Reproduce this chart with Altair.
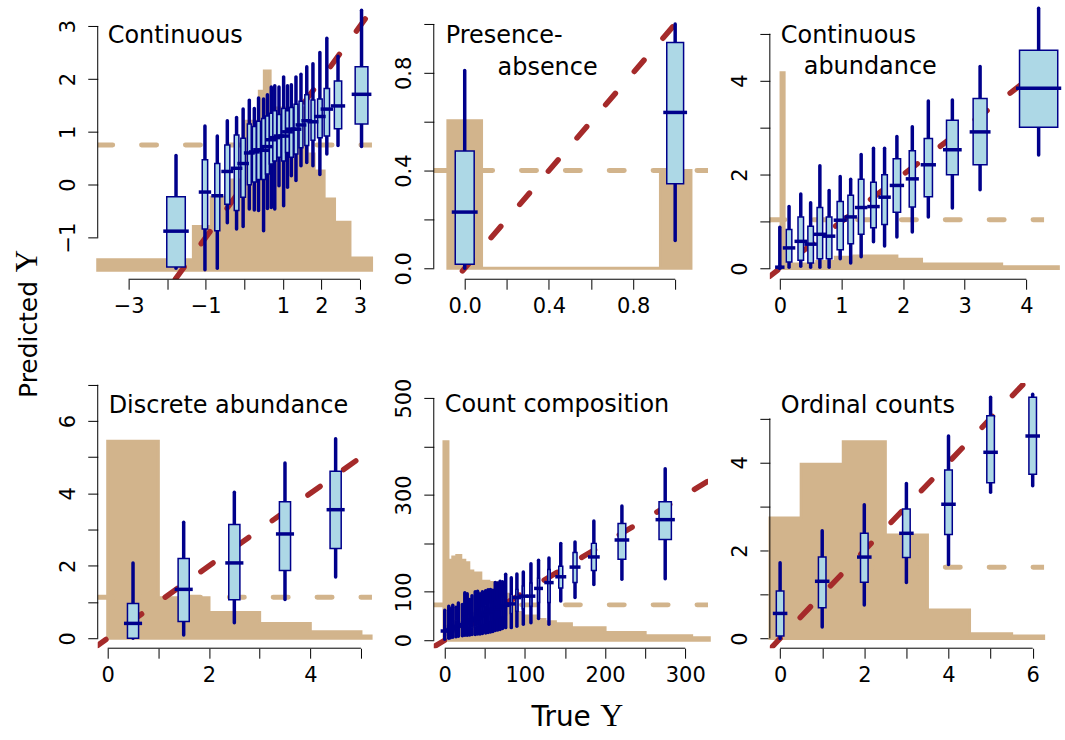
import altair as alt
import pandas as pd

# ---------------------------------------------------------------- data
TITLES = [["Continuous"], ["Presence-", "absence"], ["Continuous", "abundance"],
          ["Discrete abundance"], ["Count composition"], ["Ordinal counts"]]
AXIS_TITLE_Y = ["Predicted", "Y"]
AXIS_TITLE_X = ["True", "Y"]

# Panel 1: Continuous
P1_CENTER = [-1.77, -1.02, -0.70, -0.44, -0.20, -0.03, 0.13, 0.26, 0.37, 0.50, 0.60, 0.70, 0.79,
             0.90, 1.02, 1.12, 1.22, 1.34, 1.47, 1.62, 1.78, 1.96, 2.14, 2.43, 3.04]
P1_LO = [-1.58, -1.61, -1.58, -0.72, -0.84, -0.79, -0.46, -0.48, -0.49, -0.87, -0.45, -0.43, -0.46,
         -0.02, -0.40, -0.05, 0.17, 0.08, 0.36, 0.42, 0.36, 0.19, 0.58, 0.74, 0.72]
P1_Q1 = [-1.56, -0.84, -0.87, -0.37, -0.49, -0.24, 0.00, 0.05, 0.10, 0.10, 0.20, 0.39, 0.45,
         0.52, 0.45, 0.61, 0.52, 0.58, 0.70, 0.74, 0.84, 0.89, 0.92, 1.06, 1.15]
P1_MED = [-0.88, -0.14, -0.21, 0.25, 0.31, 0.40, 0.60, 0.62, 0.66, 0.65, 0.72, 0.85, 0.89,
          0.92, 0.92, 1.00, 1.05, 1.05, 1.13, 1.21, 1.19, 1.29, 1.43, 1.49, 1.71]
P1_Q3 = [-0.23, 0.47, 0.40, 0.75, 0.94, 0.88, 1.15, 1.10, 1.20, 1.25, 1.30, 1.35, 1.40,
         1.33, 1.44, 1.40, 1.46, 1.52, 1.58, 1.70, 1.60, 1.62, 1.82, 1.96, 2.23]
P1_HI = [0.55, 1.11, 0.92, 1.21, 1.27, 1.43, 1.60, 1.44, 1.64, 1.62, 1.70, 1.85, 1.87,
         1.85, 2.04, 1.87, 1.89, 2.04, 2.09, 2.23, 2.29, 2.50, 2.77, 2.43, 3.30]
P1_HALF = [0.24, 0.07, 0.065, 0.065, 0.06, 0.06, 0.05, 0.05, 0.05, 0.05, 0.05, 0.05, 0.05,
           0.05, 0.05, 0.05, 0.05, 0.05, 0.05, 0.05, 0.05, 0.06, 0.07, 0.095, 0.165]
P1_HIST_EDGES = [-3.80, -1.32, -0.86, -0.39, 0.04, 0.39, 0.52, 0.67, 1.63, 1.81, 2.07, 2.34, 2.74, 3.30]
P1_HIST_HEIGHT = [-1.42, -0.79, -0.24, 0.09, 1.20, 1.77, 2.15, 1.45, 0.58, 0.26, -0.27, -0.71, -1.39]
P1_HIST_BASE = -1.62
P1_HLINE = 0.75

# Panel 2: Presence-absence
P2_CENTER = [0.0, 1.0]
P2_LO = [0.0, 0.114]
P2_Q1 = [0.016, 0.346]
P2_MED = [0.23, 0.638]
P2_Q3 = [0.48, 0.924]
P2_HI = [0.81, 1.0]
P2_HALF = [0.045, 0.04]
P2_HIST_EDGES = [-0.08, 0.08, 0.93, 1.075]
P2_HIST_HEIGHT = [0.604, 0.0, 0.40]
P2_HIST_BASE = 0.0
P2_HLINE = 0.40

# Panel 3: Continuous abundance
P3_CENTER = [0.0, 0.15, 0.34, 0.50, 0.65, 0.80, 0.98, 1.15, 1.32, 1.52, 1.70, 1.90, 2.15, 2.41, 2.80, 3.25, 4.20]
P3_LO = [0.0, 0.03, 0.05, 0.03, 0.03, 0.03, 0.21, 0.12, 0.25, 0.57, 0.48, 0.67, 0.78, 1.10, 1.29, 1.68, 2.42]
P3_Q1 = [0.0, 0.14, 0.18, 0.12, 0.21, 0.21, 0.40, 0.53, 0.73, 0.87, 0.94, 1.20, 1.31, 1.53, 2.00, 2.21, 3.01]
P3_MED = [0.03, 0.44, 0.58, 0.52, 0.73, 0.69, 1.03, 1.10, 1.30, 1.32, 1.52, 1.77, 1.91, 2.21, 2.53, 2.91, 3.84]
P3_Q3 = [0.05, 0.83, 1.10, 0.90, 1.30, 1.10, 1.43, 1.56, 1.90, 1.84, 2.00, 2.34, 2.51, 2.77, 3.16, 3.62, 4.65]
P3_HI = [0.88, 1.32, 1.59, 1.40, 2.19, 1.66, 1.96, 1.90, 2.43, 2.56, 2.56, 2.81, 3.02, 3.57, 3.59, 4.30, 5.54]
P3_HALF = [0.02, 0.045, 0.045, 0.045, 0.045, 0.045, 0.05, 0.045, 0.045, 0.045, 0.045, 0.06, 0.05,
           0.067, 0.095, 0.113, 0.31]
P3_HIST_EDGES = [0.02, 0.07, 0.6, 0.9, 1.2, 1.9, 2.3, 3.6, 4.52]
P3_HIST_HEIGHT = [4.17, 0.10, 0.15, 0.24, 0.27, 0.20, 0.10, 0.04]
P3_HIST_BASE = 0.0
P3_HLINE = 1.04

# Panel 4: Discrete abundance
P4_CENTER = [0.5, 1.5, 2.5, 3.5, 4.5]
P4_LO = [0.0, 0.09, 0.43, 1.07, 1.69]
P4_Q1 = [0.0, 0.46, 1.06, 1.87, 2.48]
P4_MED = [0.41, 1.35, 2.08, 2.88, 3.55]
P4_Q3 = [0.96, 2.20, 3.14, 3.77, 4.61]
P4_HI = [2.08, 3.20, 4.03, 4.84, 5.51]
P4_HALF = [0.11, 0.11, 0.11, 0.11, 0.11]
P4_HIST_EDGES = [0.0, 1.0, 2.0, 3.0, 4.0, 5.0, 5.2]
P4_HIST_HEIGHT = [5.44, 1.12, 0.71, 0.41, 0.18, 0.06]
P4_HIST_BASE = 0.0
P4_HLINE = 1.13

# Panel 5: Count composition
P5_CENTER = [0, 5, 7, 10, 14, 17, 22, 25, 28, 31, 34, 38, 41, 44, 47, 51, 54, 57, 60, 63, 66, 69, 72, 76,
             83, 90, 98, 107.5, 117, 130, 144.7, 162.5, 186, 221, 275]
P5_LO = [2, 4, 5, 6, 7, 8, 9, 10, 10, 11, 12, 12, 13, 13, 14, 15, 16, 17, 18, 20, 21, 22, 24, 26,
         26, 29, 33, 36, 45, 33, 81, 88, 115, 126, 127]
P5_Q1 = [10, 12, 14, 15, 17, 19, 21, 23, 24, 26, 27, 29, 31, 32, 34, 36, 38, 40, 42, 44, 46, 48, 50, 52,
         55, 60, 65, 70, 78, 78, 108, 119, 144, 167, 208]
P5_MED = [19, 20, 22, 24, 27, 29, 32, 35, 37, 40, 42, 45, 47, 50, 52, 55, 58, 60, 63, 65, 67, 69, 71, 72,
          75, 88, 91, 91, 107, 119, 131, 151, 172, 207, 249]
P5_Q3 = [30, 32, 34, 36, 40, 43, 46, 49, 51, 54, 56, 60, 62, 65, 68, 71, 74, 76, 79, 82, 84, 86, 88, 90,
         95, 105, 112, 118, 128, 146, 153, 181, 200, 241, 286]
P5_HI = [62, 70, 65, 72, 68, 77, 74, 98, 96, 84, 92, 100, 101, 96, 100, 102, 104, 105, 103, 119, 118, 122, 121, 136,
         129, 137, 141, 158, 165, 170, 200, 203, 246, 277, 354]
P5_HALF = [0.8, 0.8, 0.8, 0.8, 0.8, 0.8, 0.8, 0.8, 0.8, 0.8, 0.8, 0.8, 0.8, 0.8, 0.8, 0.8, 0.8, 0.8, 0.8, 0.8,
           0.8, 0.8, 0.8, 0.8, 1.2, 1.2, 1.2, 1.2, 1.2, 1.5, 2.5, 2.5, 3.0, 4.8, 7.7]
P5_HIST_EDGES = [-1, 4, 10, 15, 20, 25, 30, 35, 45, 55, 65, 75, 83, 90, 96, 113, 125, 138, 158, 200, 250, 308, 330]
P5_HIST_HEIGHT = [410, 165, 172, 175, 165, 160, 143, 139, 122, 119, 110, 95, 78, 57, 50, 43, 38, 34, 26, 16, 9, 5]
P5_HIST_BASE = 0
P5_HLINE = 73

# Panel 6: Ordinal counts
P6_CENTER = [0, 1, 2, 3, 4, 5, 6]
P6_LO = [0.0, 0.26, 0.76, 1.27, 1.68, 3.32, 3.47]
P6_Q1 = [0.06, 0.70, 1.28, 1.84, 2.36, 3.54, 3.73]
P6_MED = [0.57, 1.30, 1.85, 2.39, 3.05, 4.23, 4.60]
P6_Q3 = [1.08, 1.85, 2.39, 2.94, 3.83, 5.06, 5.48]
P6_HI = [1.72, 2.45, 3.04, 3.52, 4.60, 5.48, 5.55]
P6_HALF = [0.09, 0.09, 0.09, 0.09, 0.09, 0.09, 0.09]
P6_HIST_EDGES = [-0.24, 0.5, 1.5, 2.5, 3.5, 4.5, 5.5, 6.26]
P6_HIST_HEIGHT = [2.74, 3.96, 4.47, 2.35, 0.65, 0.11, 0.06]
P6_HIST_BASE = 0.0
P6_HLINE = 1.62

# tick values / labels shown
P1_XTICKS, P1_XLABELS = [-3, -2, -1, 0, 1, 2, 3], [-3, -1, 1, 2, 3]
P1_YTICKS, P1_YLABELS = [-1, 0, 1, 2, 3], [-1, 0, 1, 2, 3]
P2_XTICKS, P2_XLABELS = [0, 0.2, 0.4, 0.6, 0.8, 1.0], [0, 0.4, 0.8]
P2_YTICKS, P2_YLABELS = [0, 0.2, 0.4, 0.6, 0.8, 1.0], [0, 0.4, 0.8]
P3_XTICKS, P3_XLABELS = [0, 1, 2, 3, 4], [0, 1, 2, 3, 4]
P3_YTICKS, P3_YLABELS = [0, 1, 2, 3, 4, 5], [0, 2, 4]
P4_XTICKS, P4_XLABELS = [0, 1, 2, 3, 4, 5], [0, 2, 4]
P4_YTICKS, P4_YLABELS = [0, 1, 2, 3, 4, 5, 6, 7], [0, 2, 4, 6]
P5_XTICKS, P5_XLABELS = [0, 50, 100, 150, 200, 250, 300], [0, 100, 200, 300]
P5_YTICKS, P5_YLABELS = [0, 100, 200, 300, 400, 500], [0, 100, 300, 500]
P6_XTICKS, P6_XLABELS = [0, 1, 2, 3, 4, 5, 6], [0, 2, 4, 6]
P6_YTICKS, P6_YLABELS = [0, 1, 2, 3, 4, 5], [0, 2, 4]

# ---------------------------------------------------------------- style
W, H = 275, 266
TAN, RED, NAVY, LBLUE = "#D2B48C", "#A52A2A", "#00008B", "#ADD8E6"
SANS, SERIF = "DejaVu Sans", "Liberation Serif"
DASH = [15, 29]


def label_expr(labels, fmt):
    arr = "[" + ",".join(repr(v) for v in labels) + "]"
    return f"indexof({arr}, datum.value) >= 0 ? format(datum.value, '{fmt}') : ''"


def x_axis(ticks, labels, fmt):
    return alt.Axis(values=ticks, labelExpr=label_expr(labels, fmt), title=None, domain=False,
                    grid=False, tickSize=10, tickColor="black", tickWidth=1, labelFont=SANS,
                    labelFontSize=21, labelColor="black", labelPadding=6, labelOverlap=False,
                    labelFlush=False, labelAngle=0, labelAlign="center", labelBaseline="top")


def y_axis(ticks, labels, fmt):
    return alt.Axis(values=ticks, labelExpr=label_expr(labels, fmt), title=None, domain=False,
                    grid=False, tickSize=10, tickColor="black", tickWidth=1, labelFont=SANS,
                    labelFontSize=21, labelColor="black", labelPadding=13, labelOverlap=False,
                    labelFlush=False, labelAngle=270, labelAlign="center",
                    labelBaseline="alphabetic")


def build_panel(xdom, ydom, xt, xl, yt, yl, fmt, box, hist, title_pos, extra=()):
    center, lo, q1, med, q3, hi, half = box
    edges, heights, base, hline = hist
    xs = alt.Scale(domain=xdom, nice=False, zero=False)
    ys = alt.Scale(domain=ydom, nice=False, zero=False)
    xa = x_axis(xt, xl, fmt)
    ya = y_axis(yt, yl, fmt)

    def X(f):
        return alt.X(f, type="quantitative", scale=xs, axis=xa)

    def Y(f):
        return alt.Y(f, type="quantitative", scale=ys, axis=ya)

    ppu = W / (xdom[1] - xdom[0])

    hist_df = pd.DataFrame({"x": edges, "y": heights + [heights[-1]], "y2": [base] * len(edges)})
    hist_l = alt.Chart(hist_df).mark_area(
        interpolate="step-after", fill=TAN, stroke=TAN, strokeWidth=3, fillOpacity=1
    ).encode(x=X("x"), y=Y("y"), y2=alt.Y2("y2"))

    tan_df = pd.DataFrame({"x": [xdom[0]], "x2": [xdom[1]], "y": [hline]})
    tan_l = alt.Chart(tan_df).mark_rule(
        color=TAN, strokeWidth=5, strokeDash=DASH, strokeCap="round", clip=True
    ).encode(x=X("x"), x2=alt.X2("x2"), y=Y("y"))

    lo_v, hi_v = min(xdom[0], ydom[0]), max(xdom[1], ydom[1])
    red_df = pd.DataFrame({"x": [lo_v, hi_v], "y": [lo_v, hi_v]})
    red_l = alt.Chart(red_df).mark_line(
        color=RED, strokeWidth=5.5, strokeDash=DASH, strokeCap="round", clip=True
    ).encode(x=X("x"), y=Y("y"))

    bdf = pd.DataFrame({"c": center, "lo": lo, "q1": q1, "med": med, "q3": q3, "hi": hi, "h": half})
    bdf["bl"] = bdf["c"] - bdf["h"]
    bdf["br"] = bdf["c"] + bdf["h"]
    bdf["ml"] = bdf["c"] - bdf["h"] - 3.5 / ppu
    bdf["mr"] = bdf["c"] + bdf["h"] + 3.5 / ppu

    whisk = alt.Chart(bdf).mark_rule(color=NAVY, strokeWidth=3.5, strokeCap="round").encode(
        x=X("c"), y=Y("lo"), y2=alt.Y2("hi"))
    boxes = alt.Chart(bdf).mark_rect(fill=LBLUE, stroke=NAVY, strokeWidth=1.5).encode(
        x=X("bl"), x2=alt.X2("br"), y=Y("q1"), y2=alt.Y2("q3"))
    meds = alt.Chart(bdf).mark_rule(color=NAVY, strokeWidth=3.5).encode(
        x=X("ml"), x2=alt.X2("mr"), y=Y("med"))

    yline = alt.Chart(pd.DataFrame({"y": [yt[0]], "y2": [yt[-1]]})).mark_rule(
        color="black", strokeWidth=1
    ).encode(x=alt.value(0), y=Y("y"), y2=alt.Y2("y2"))
    xline = alt.Chart(pd.DataFrame({"x": [xt[0]], "x2": [xt[-1]]})).mark_rule(
        color="black", strokeWidth=1
    ).encode(y=alt.value(H), x=X("x"), x2=alt.X2("x2"))

    texts = []
    for txt, px, py in title_pos:
        texts.append(
            alt.Chart(pd.DataFrame({"t": [txt]})).mark_text(
                align="left", baseline="alphabetic", font=SANS, fontSize=24, color="black"
            ).encode(text="t:N", x=alt.value(px), y=alt.value(py))
        )

    return alt.layer(hist_l, tan_l, red_l, whisk, boxes, meds, yline, xline, *texts, *extra).properties(
        width=W, height=H
    )


def text_layer(txt, px, py, font, size, angle=0):
    return alt.Chart(pd.DataFrame({"t": [txt]})).mark_text(
        align="left", baseline="alphabetic", font=font, fontSize=size, color="black", angle=angle
    ).encode(text="t:N", x=alt.value(px), y=alt.value(py))


anchor = alt.Chart(pd.DataFrame({"a": [0]})).mark_rule(color="white", strokeWidth=1).encode(
    x=alt.value(-97.5), x2=alt.value(-96.5), y=alt.value(-12.5)
)
ytitle = [
    text_layer(AXIS_TITLE_Y[0], -61, 385, SANS, 25, 270),
    text_layer(AXIS_TITLE_Y[1], -61, 259, SERIF, 31, 270),
]
xtitle = [
    text_layer(AXIS_TITLE_X[0], 98, 344, SANS, 28),
    text_layer(AXIS_TITLE_X[1], 167, 344, SERIF, 32),
]

p1 = build_panel([-3.80, 3.31], [-1.79, 3.23], P1_XTICKS, P1_XLABELS, P1_YTICKS, P1_YLABELS, "d",
                 (P1_CENTER, P1_LO, P1_Q1, P1_MED, P1_Q3, P1_HI, P1_HALF),
                 (P1_HIST_EDGES, P1_HIST_HEIGHT, P1_HIST_BASE, P1_HLINE),
                 [(TITLES[0][0], 10, 29)], extra=[anchor] + ytitle)
p2 = build_panel([-0.147, 1.156], [-0.045, 1.041], P2_XTICKS, P2_XLABELS, P2_YTICKS, P2_YLABELS, ".1f",
                 (P2_CENTER, P2_LO, P2_Q1, P2_MED, P2_Q3, P2_HI, P2_HALF),
                 (P2_HIST_EDGES, P2_HIST_HEIGHT, P2_HIST_BASE, P2_HLINE),
                 [(TITLES[1][0], 12, 29), (TITLES[1][1], 64, 61)])
p3 = build_panel([-0.162, 4.288], [-0.227, 5.42], P3_XTICKS, P3_XLABELS, P3_YTICKS, P3_YLABELS, "d",
                 (P3_CENTER, P3_LO, P3_Q1, P3_MED, P3_Q3, P3_HI, P3_HALF),
                 (P3_HIST_EDGES, P3_HIST_HEIGHT, P3_HIST_BASE, P3_HLINE),
                 [(TITLES[2][0], 11, 29), (TITLES[2][1], 34, 60)])
p4 = build_panel([-0.197, 5.217], [-0.275, 7.05], P4_XTICKS, P4_XLABELS, P4_YTICKS, P4_YLABELS, "d",
                 (P4_CENTER, P4_LO, P4_Q1, P4_MED, P4_Q3, P4_HI, P4_HALF),
                 (P4_HIST_EDGES, P4_HIST_HEIGHT, P4_HIST_BASE, P4_HLINE),
                 [(TITLES[3][0], 11, 30)])
p5 = build_panel([-13.7, 328.4], [-16.5, 531.3], P5_XTICKS, P5_XLABELS, P5_YTICKS, P5_YLABELS, "d",
                 (P5_CENTER, P5_LO, P5_Q1, P5_MED, P5_Q3, P5_HI, P5_HALF),
                 (P5_HIST_EDGES, P5_HIST_HEIGHT, P5_HIST_BASE, P5_HLINE),
                 [(TITLES[4][0], 11, 29)], extra=xtitle)
p6 = build_panel([-0.244, 6.27], [-0.22, 5.805], P6_XTICKS, P6_XLABELS, P6_YTICKS, P6_YLABELS, "d",
                 (P6_CENTER, P6_LO, P6_Q1, P6_MED, P6_Q3, P6_HI, P6_HALF),
                 (P6_HIST_EDGES, P6_HIST_HEIGHT, P6_HIST_BASE, P6_HLINE),
                 [(TITLES[5][0], 11, 30)])

chart = alt.concat(
    p1, p2, p3, p4, p5, p6, columns=3,
    spacing={"row": 104, "column": 62}, bounds="flush", padding=0, background="white",
).configure_view(strokeOpacity=0)

chart.save("out.html", embed_options={"renderer": "svg", "actions": False})
